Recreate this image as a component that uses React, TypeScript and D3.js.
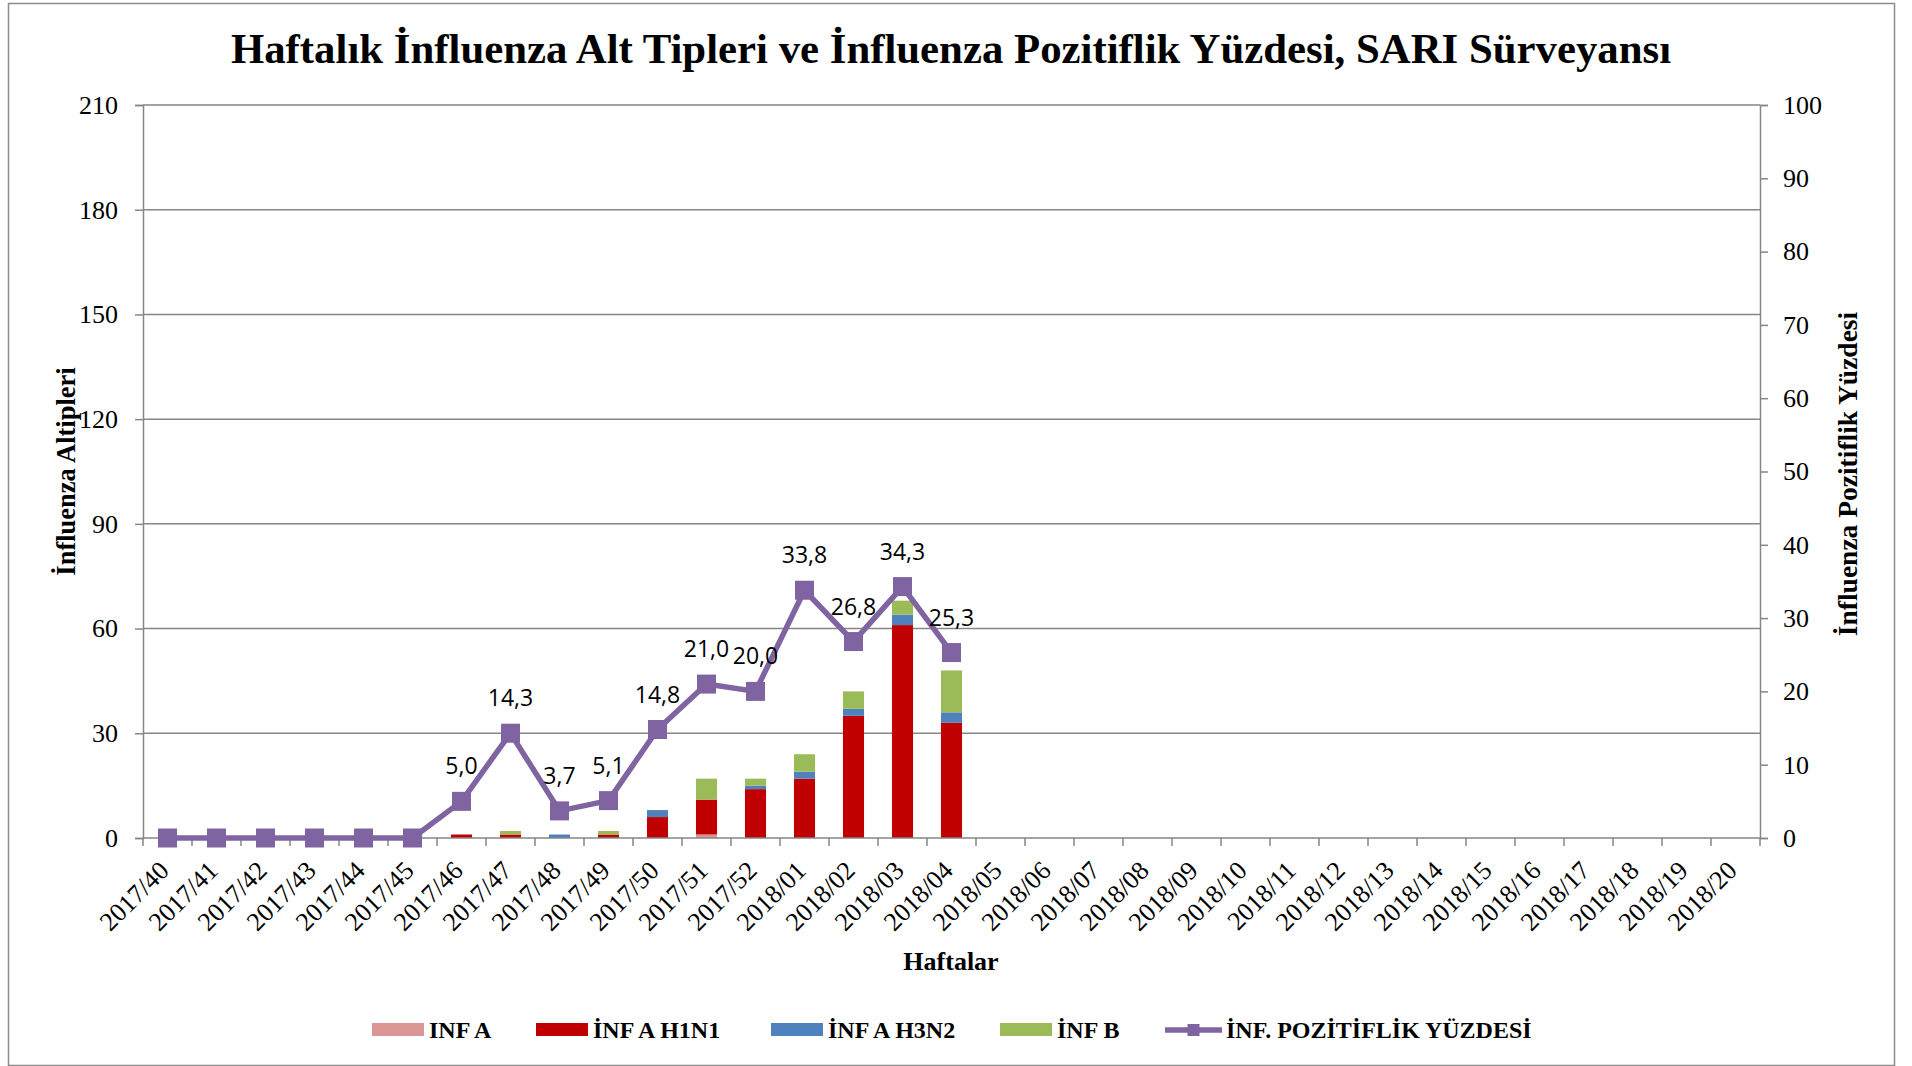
import React, { useEffect, useRef } from 'react';
import * as d3 from 'd3';

// weeks on the x axis
const weeks = [
  '2017/40', '2017/41', '2017/42', '2017/43', '2017/44', '2017/45', '2017/46',
  '2017/47', '2017/48', '2017/49', '2017/50', '2017/51', '2017/52',
  '2018/01', '2018/02', '2018/03', '2018/04', '2018/05', '2018/06', '2018/07',
  '2018/08', '2018/09', '2018/10', '2018/11', '2018/12', '2018/13', '2018/14',
  '2018/15', '2018/16', '2018/17', '2018/18', '2018/19', '2018/20',
];

// counts per subtype (only the weeks with data so far)
const infA = [0, 0, 0, 0, 0, 0, 0, 0, 0, 0, 0, 1, 0, 0, 0, 0, 0];
const infAH1N1 = [0, 0, 0, 0, 0, 0, 1, 1, 0, 1, 6, 10, 14, 17, 35, 61, 33];
const infAH3N2 = [0, 0, 0, 0, 0, 0, 0, 0, 1, 0, 2, 0, 1, 2, 2, 3, 3];
const infB = [0, 0, 0, 0, 0, 0, 0, 1, 0, 1, 0, 6, 2, 5, 5, 4, 12];

// positivity percentage
const positivity = [0, 0, 0, 0, 0, 0, 5.0, 14.3, 3.7, 5.1, 14.8, 21.0, 20.0, 33.8, 26.8, 34.3, 25.3];

const leftTicks = [0, 30, 60, 90, 120, 150, 180, 210];
const rightTicks = [0, 10, 20, 30, 40, 50, 60, 70, 80, 90, 100];

const seriesKeys = ['INF A', 'İNF A H1N1', 'İNF A H3N2', 'İNF B'];
const seriesColors = ['#D99694', '#C00000', '#4F81BD', '#9BBB59'];
const lineColor = '#8064A2';
const lineLabel = 'İNF. POZİTİFLİK YÜZDESİ';

const serif = '"Liberation Serif", "Times New Roman", Times, serif';
const sans = '"Open Sans", Calibri, sans-serif';

const App = () => {
  const svgRef = useRef<SVGSVGElement>(null);

  useEffect(() => {
    const W = 1912;
    const H = 1066;
    const plot = { left: 143, right: 1760, top: 105, bottom: 838 };

    const svg = d3.select(svgRef.current).attr('width', W).attr('height', H);
    svg.selectAll('*').remove();

    // outer chart border
    svg.append('rect')
      .attr('x', 8.5).attr('y', 3.5)
      .attr('width', 1886).attr('height', 1062)
      .attr('fill', '#fff')
      .attr('stroke', '#8c8c8c')
      .attr('stroke-width', 1.5);

    const x = d3.scaleBand<string>()
      .domain(weeks)
      .range([plot.left, plot.right])
      .padding(0);

    const y = d3.scaleLinear().domain([0, 210]).range([plot.bottom, plot.top]);
    const y2 = d3.scaleLinear().domain([0, 100]).range([plot.bottom, plot.top]);

    const axisColor = '#868686';

    // gridlines
    svg.append('g')
      .selectAll('line')
      .data(leftTicks.filter(d => d > 0))
      .enter()
      .append('line')
      .attr('x1', plot.left).attr('x2', plot.right)
      .attr('y1', d => y(d)).attr('y2', d => y(d))
      .attr('stroke', axisColor)
      .attr('stroke-width', 1.5);

    // stacked bars
    const rows = infAH1N1.map((_, i) => ({
      week: weeks[i],
      'INF A': infA[i],
      'İNF A H1N1': infAH1N1[i],
      'İNF A H3N2': infAH3N2[i],
      'İNF B': infB[i],
    }));
    const stacked = d3.stack<any>().keys(seriesKeys)(rows);
    const barW = x.bandwidth() * 0.43;

    svg.append('g')
      .selectAll('g')
      .data(stacked)
      .enter()
      .append('g')
      .attr('fill', (_, i) => seriesColors[i])
      .selectAll('rect')
      .data(d => d)
      .enter()
      .append('rect')
      .attr('x', d => (x(d.data.week) as number) + x.bandwidth() / 2 - barW / 2)
      .attr('y', d => y(d[1]))
      .attr('width', barW)
      .attr('height', d => y(d[0]) - y(d[1]));

    // left axis
    const left = svg.append('g')
      .attr('transform', `translate(${plot.left},0)`)
      .call(d3.axisLeft(y).tickValues(leftTicks).tickSize(8).tickPadding(17));
    left.select('.domain').attr('stroke', axisColor).attr('stroke-width', 1.5);
    left.selectAll('.tick line').attr('stroke', axisColor).attr('stroke-width', 1.5);
    left.selectAll('text')
      .style('font-family', serif)
      .style('font-size', '26px')
      .attr('fill', '#000');

    // right axis
    const right = svg.append('g')
      .attr('transform', `translate(${plot.right},0)`)
      .call(d3.axisRight(y2).tickValues(rightTicks).tickSize(8).tickPadding(15));
    right.select('.domain').attr('stroke', axisColor).attr('stroke-width', 1.5);
    right.selectAll('.tick line').attr('stroke', axisColor).attr('stroke-width', 1.5);
    right.selectAll('text')
      .style('font-family', serif)
      .style('font-size', '26px')
      .attr('fill', '#000');

    // bottom axis with ticks between categories
    const bottom = svg.append('g').attr('transform', `translate(0,${plot.bottom})`);
    bottom.append('line')
      .attr('x1', plot.left).attr('x2', plot.right)
      .attr('stroke', axisColor).attr('stroke-width', 1.5);
    bottom.selectAll('.xtick')
      .data(weeks.concat(['end']))
      .enter()
      .append('line')
      .attr('class', 'xtick')
      .attr('x1', (d, i) => plot.left + i * x.step())
      .attr('x2', (d, i) => plot.left + i * x.step())
      .attr('y1', 0).attr('y2', 8)
      .attr('stroke', axisColor).attr('stroke-width', 1.5);
    bottom.selectAll('.xlabel')
      .data(weeks)
      .enter()
      .append('text')
      .attr('class', 'xlabel')
      .attr('transform', d => `translate(${(x(d) as number) + x.bandwidth() / 2 - 3},28) rotate(-45)`)
      .attr('text-anchor', 'end')
      .attr('dominant-baseline', 'central')
      .style('font-family', serif)
      .style('font-size', '26px')
      .text(d => d);

    // positivity line
    const pts = positivity.map((v, i) => ({ week: weeks[i], v }));
    const cx = (d: { week: string }) => (x(d.week) as number) + x.bandwidth() / 2;
    const line = d3.line<{ week: string; v: number }>()
      .x(d => cx(d))
      .y(d => y2(d.v));

    svg.append('path')
      .datum(pts)
      .attr('d', line)
      .attr('fill', 'none')
      .attr('stroke', lineColor)
      .attr('stroke-width', 5.5)
      .attr('stroke-linejoin', 'round');

    const ms = 19;
    svg.append('g')
      .selectAll('rect')
      .data(pts)
      .enter()
      .append('rect')
      .attr('x', d => cx(d) - ms / 2)
      .attr('y', d => y2(d.v) - ms / 2)
      .attr('width', ms)
      .attr('height', ms)
      .attr('fill', lineColor);

    // data labels
    svg.append('g')
      .selectAll('text')
      .data(pts.filter(d => d.v > 0))
      .enter()
      .append('text')
      .attr('x', d => cx(d))
      .attr('y', d => y2(d.v) - 27)
      .attr('text-anchor', 'middle')
      .style('font-family', sans)
      .style('font-size', '23px')
      .text(d => d3.format('.1f')(d.v).replace('.', ','));

    // title
    svg.append('text')
      .attr('x', 951)
      .attr('y', 63)
      .attr('text-anchor', 'middle')
      .style('font-family', serif)
      .style('font-size', '42.8px')
      .style('font-weight', 'bold')
      .text('Haftalık İnfluenza Alt Tipleri ve İnfluenza Pozitiflik Yüzdesi, SARI Sürveyansı');

    // axis titles
    svg.append('text')
      .attr('transform', `translate(75,${(plot.top + plot.bottom) / 2}) rotate(-90)`)
      .attr('text-anchor', 'middle')
      .style('font-family', serif)
      .style('font-size', '26.5px')
      .style('font-weight', 'bold')
      .text('İnfluenza Altipleri');

    svg.append('text')
      .attr('transform', `translate(1857,474) rotate(-90)`)
      .attr('text-anchor', 'middle')
      .style('font-family', serif)
      .style('font-size', '27.5px')
      .style('font-weight', 'bold')
      .text('İnfluenza Pozitiflik Yüzdesi');

    svg.append('text')
      .attr('x', 951)
      .attr('y', 970)
      .attr('text-anchor', 'middle')
      .style('font-family', serif)
      .style('font-size', '26px')
      .style('font-weight', 'bold')
      .text('Haftalar');

    // legend
    const legendX = [372, 536, 771, 1000, 1165];
    const legend = svg.append('g').attr('transform', 'translate(0,1030)');
    seriesKeys.forEach((k, i) => {
      legend.append('rect')
        .attr('x', legendX[i]).attr('y', -7)
        .attr('width', 52).attr('height', 13)
        .attr('fill', seriesColors[i]);
      legend.append('text')
        .attr('x', legendX[i] + 57).attr('y', 8)
        .style('font-family', serif)
        .style('font-size', '24px')
        .style('font-weight', 'bold')
        .text(k);
    });
    const lx = legendX[4];
    legend.append('line')
      .attr('x1', lx).attr('x2', lx + 57)
      .attr('stroke', lineColor).attr('stroke-width', 5.5);
    legend.append('rect')
      .attr('x', lx + 28.5 - 6).attr('y', -6)
      .attr('width', 12).attr('height', 12)
      .attr('fill', lineColor);
    legend.append('text')
      .attr('x', lx + 61).attr('y', 8)
      .style('font-family', serif)
      .style('font-size', '24px')
      .style('font-weight', 'bold')
      .text(lineLabel);
  }, []);

  return (
    <div className="chart">
      <svg ref={svgRef} style={{ position: 'absolute', left: 0, top: 0, display: 'block' }}></svg>
    </div>
  );
};

export default App;
